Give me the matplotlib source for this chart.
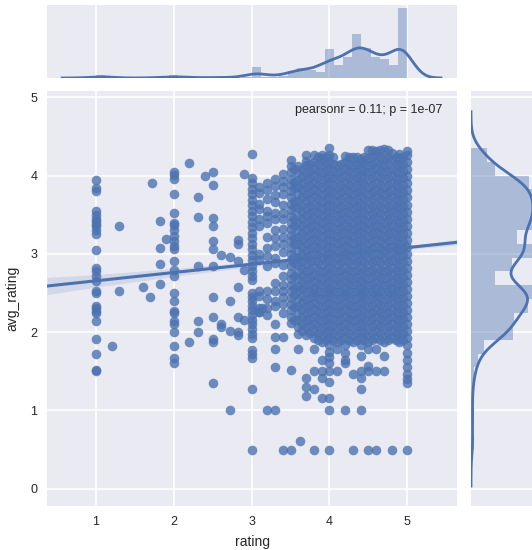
import matplotlib
matplotlib.use("Agg")
import matplotlib.pyplot as plt
import numpy as np

# --- scatter data (rating, avg_rating) ---
# lone points away from the dense columns
sparse_x = [1.2, 1.3, 1.3, 1.61, 1.7, 1.72, 1.82, 1.82, 1.82, 1.82, 1.9,
            2.2, 2.31, 2.31, 2.4, 2.51, 2.51, 2.51, 2.51, 2.51, 2.51, 2.61, 2.72,
            2.31, 2.51, 2.9, 2.82, 2.82, 2.82, 2.82, 2.72, 2.51, 2.2, 2.31, 2.31,
            2.51, 2.51, 2.51, 2.51, 2.61, 2.61, 2.72, 2.82, 2.82, 2.82, 2.9, 2.72,
            2.9, 3.1, 3.13, 3.62]
sparse_y = [1.82, 3.35, 2.53, 2.58, 2.45, 3.90, 3.42, 3.08, 2.87, 2.62, 3.19,
            4.16, 3.72, 3.47, 3.99, 4.04, 3.88, 3.46, 3.36, 3.17, 3.06, 2.98, 2.96,
            2.84, 2.85, 4.02, 3.18, 3.12, 2.91, 2.58, 2.40, 2.45, 1.87, 2.14, 2.00,
            2.20, 1.91, 1.87, 1.35, 2.10, 2.06, 2.01, 2.20, 2.00, 1.96, 2.15, 1.01,
            2.80, 2.26, 2.31, 0.61]

# columns of points sharing one rating value
col_1_0 = [3.94, 3.84, 3.80, 3.55, 3.50, 3.45, 3.42, 3.38, 3.35, 3.31, 3.26, 3.05, 2.82,
           2.78, 2.72, 2.65, 2.52, 2.50, 2.33, 2.31, 2.27, 2.24, 2.14, 1.91, 1.72, 1.52, 1.50]
col_2_0 = [4.05, 4.01, 3.95, 3.77, 3.52, 3.40, 3.37, 3.31, 3.23, 3.16, 3.10, 3.06, 2.91,
           2.80, 2.72, 2.50, 2.40, 2.27, 2.25, 2.14, 2.10, 2.00, 1.82, 1.67, 1.61]
col_3_0 = [4.28, 3.97, 3.90, 3.83, 3.76, 3.69, 3.62, 3.55, 3.48, 3.41, 3.34, 3.27, 3.20,
           3.13, 3.06, 2.99, 2.92, 2.85, 2.78, 2.72, 2.66, 2.50, 2.45, 2.40, 2.34, 2.28,
           2.22, 2.16, 2.10, 2.04, 1.98, 1.93, 1.77, 1.72, 1.67, 1.27, 0.50]
col_3_1 = [3.86, 3.78, 3.64, 3.57, 3.45, 3.36, 3.00, 2.92, 2.52, 2.46, 2.31, 2.26]
col_3_2 = [3.90, 3.82, 3.70, 3.55, 3.48, 3.40, 3.22, 3.07, 2.97, 2.84, 2.52, 2.42, 2.31,
           2.22, 1.01]
col_3_3 = [3.95, 3.87, 3.75, 3.66, 3.52, 3.44, 3.30, 3.20, 3.10, 2.95, 2.88, 2.63, 2.52,
           2.40, 2.33, 2.10, 1.94, 1.78, 1.55, 1.01]
col_3_4 = [4.02, 3.93, 3.85, 3.76, 3.62, 3.52, 3.45, 3.32, 3.22, 3.12, 3.02, 2.86, 2.72,
           2.60, 2.52, 2.45, 2.36, 2.25, 1.94, 0.50]
col_3_5 = [4.20, 4.12, 4.04, 3.96, 3.88, 3.80, 3.72, 3.64, 3.56, 3.48, 3.40, 3.32, 3.24,
           3.16, 3.08, 3.00, 2.92, 2.84, 2.76, 2.68, 2.60, 2.52, 2.44, 2.36, 2.28, 2.20,
           2.12, 1.52, 0.50]
col_3_55 = [4.08, 3.92, 3.84, 3.68, 3.60, 3.44, 3.36, 3.20, 3.12, 2.96, 2.88, 2.72, 2.56,
            2.48, 2.32, 2.16]
col_3_6 = [4.12, 4.03, 3.94, 3.85, 3.76, 3.67, 3.58, 3.49, 3.40, 3.31, 3.22, 3.13, 3.04,
           2.95, 2.86, 2.77, 2.68, 2.59, 2.52, 2.43, 2.34, 2.25, 2.16, 2.07, 1.98, 1.79]
col_3_65 = [4.08, 3.99, 3.90, 3.81, 3.72, 3.63, 3.54, 3.45, 3.36, 3.27, 3.18, 3.09, 3.00,
            2.91, 2.82, 2.73, 2.64, 2.55, 2.46, 2.37, 2.28, 2.19, 2.10, 2.01]
col_3_7 = [4.26, 4.18, 4.13, 4.04, 3.95, 3.86, 3.77, 3.68, 3.59, 3.50, 3.41, 3.32, 3.23,
           3.14, 3.05, 2.96, 2.87, 2.78, 2.69, 2.60, 2.51, 2.42, 2.33, 2.24, 2.15, 2.06,
           1.97, 1.42, 1.30, 1.19]
col_3_75 = [4.15, 4.06, 3.97, 3.88, 3.79, 3.70, 3.61, 3.52, 3.43, 3.34, 3.25, 3.16, 3.07,
            2.98, 2.89, 2.80, 2.71, 2.62, 2.53, 2.44, 2.35, 2.26, 2.17, 2.08, 1.99]
col_3_8 = [4.26, 4.17, 4.08, 3.99, 3.90, 3.81, 3.72, 3.63, 3.54, 3.45, 3.36, 3.27, 3.18,
           3.09, 3.00, 2.91, 2.82, 2.73, 2.64, 2.55, 2.50, 2.46, 2.37, 2.28, 2.19, 2.10,
           2.01, 1.92, 1.78, 1.51, 1.27, 0.50]
col_3_85 = [4.24, 4.15, 4.06, 3.97, 3.88, 3.79, 3.70, 3.61, 3.52, 3.43, 3.34, 3.25, 3.16,
            3.07, 2.98, 2.89, 2.80, 2.71, 2.62, 2.53, 2.44, 2.35, 2.26, 2.17, 2.08, 1.99,
            1.90]
col_3_9 = [4.26, 4.22, 4.13, 4.04, 3.95, 3.86, 3.77, 3.68, 3.59, 3.50, 3.41, 3.32, 3.23,
           3.14, 3.05, 2.96, 2.87, 2.78, 2.69, 2.60, 2.51, 2.42, 2.33, 2.24, 2.15, 2.06,
           1.97, 1.88, 1.65, 1.51, 1.42, 1.16]
col_3_95 = [4.24, 4.15, 4.06, 3.97, 3.88, 3.79, 3.70, 3.61, 3.52, 3.43, 3.34, 3.25, 3.16,
            3.07, 2.98, 2.89, 2.80, 2.71, 2.62, 2.53, 2.44, 2.35, 2.26, 2.17, 2.08, 1.99,
            1.90]
col_4_0 = [4.35, 4.26, 4.17, 4.08, 3.99, 3.90, 3.81, 3.72, 3.63, 3.54, 3.45, 3.36, 3.27,
           3.18, 3.09, 3.00, 2.91, 2.82, 2.73, 2.64, 2.55, 2.50, 2.46, 2.37, 2.28, 2.19,
           2.10, 2.01, 1.92, 1.83, 1.75, 1.68, 1.61, 1.51, 1.37, 1.16, 1.01, 0.50]
col_4_05 = [4.24, 4.15, 4.06, 3.97, 3.88, 3.79, 3.70, 3.61, 3.52, 3.43, 3.34, 3.25, 3.16,
            3.07, 2.98, 2.89, 2.80, 2.71, 2.62, 2.53, 2.44, 2.35, 2.26, 2.17, 2.08, 1.99,
            1.90]
col_4_1 = [4.14, 4.04, 3.95, 3.86, 3.77, 3.68, 3.59, 3.50, 3.41, 3.32, 3.23, 3.14, 3.05,
           2.96, 2.87, 2.78, 2.69, 2.60, 2.51, 2.42, 2.33, 2.24, 2.15, 2.06, 1.97, 1.88,
           1.78, 1.51]
col_4_15 = [4.15, 4.06, 3.97, 3.88, 3.79, 3.70, 3.61, 3.52, 3.43, 3.34, 3.25, 3.16, 3.07,
            2.98, 2.89, 2.80, 2.71, 2.62, 2.53, 2.44, 2.35, 2.26, 2.17, 2.08, 1.99, 1.90]
col_4_2 = [4.25, 4.17, 4.08, 3.99, 3.90, 3.81, 3.72, 3.63, 3.54, 3.45, 3.36, 3.27, 3.18,
           3.09, 3.00, 2.91, 2.82, 2.73, 2.64, 2.55, 2.50, 2.46, 2.37, 2.28, 2.19, 2.10,
           2.01, 1.92, 1.83, 1.74, 1.65, 1.60, 1.01]
col_4_25 = [4.24, 4.15, 4.06, 3.97, 3.88, 3.79, 3.70, 3.61, 3.52, 3.43, 3.34, 3.25, 3.16,
            3.07, 2.98, 2.89, 2.80, 2.71, 2.62, 2.53, 2.44, 2.35, 2.26, 2.17, 2.08, 1.99,
            1.90]
col_4_3 = [4.24, 4.13, 4.04, 3.95, 3.86, 3.77, 3.68, 3.59, 3.50, 3.41, 3.32, 3.23, 3.14,
           3.05, 2.96, 2.87, 2.78, 2.69, 2.60, 2.51, 2.42, 2.33, 2.24, 2.15, 2.06, 1.97,
           1.88, 1.47, 0.50]
col_4_35 = [4.24, 4.15, 4.06, 3.97, 3.88, 3.79, 3.70, 3.61, 3.52, 3.43, 3.34, 3.25, 3.16,
            3.07, 2.98, 2.89, 2.80, 2.71, 2.62, 2.53, 2.44, 2.35, 2.26, 2.17, 2.08, 1.99,
            1.90]
col_4_4 = [4.21, 4.17, 4.08, 3.99, 3.90, 3.81, 3.72, 3.63, 3.54, 3.45, 3.36, 3.27, 3.18,
           3.09, 3.00, 2.91, 2.82, 2.73, 2.64, 2.55, 2.50, 2.46, 2.37, 2.28, 2.19, 2.10,
           2.01, 1.92, 1.83, 1.70, 1.51, 1.42, 1.27, 1.01]
col_4_45 = [4.24, 4.15, 4.06, 3.97, 3.88, 3.79, 3.70, 3.61, 3.52, 3.43, 3.34, 3.25, 3.16,
            3.07, 2.98, 2.89, 2.80, 2.71, 2.62, 2.53, 2.44, 2.35, 2.26, 2.17, 2.08, 1.99,
            1.90]
col_4_5 = [4.33, 4.22, 4.13, 4.04, 3.95, 3.86, 3.77, 3.68, 3.59, 3.50, 3.41, 3.32, 3.23,
           3.14, 3.05, 2.96, 2.87, 2.78, 2.69, 2.60, 2.51, 2.42, 2.33, 2.24, 2.15, 2.06,
           1.97, 1.88, 1.78, 1.57, 1.51, 0.50]
col_4_55 = [4.33, 4.24, 4.15, 4.06, 3.97, 3.88, 3.79, 3.70, 3.61, 3.52, 3.43, 3.34, 3.25,
            3.16, 3.07, 2.98, 2.89, 2.80, 2.71, 2.62, 2.53, 2.44, 2.35, 2.26, 2.17, 2.08,
            1.99, 1.90]
col_4_6 = [4.31, 4.26, 4.17, 4.08, 3.99, 3.90, 3.81, 3.72, 3.63, 3.54, 3.45, 3.36, 3.27,
           3.18, 3.09, 3.00, 2.91, 2.82, 2.73, 2.64, 2.55, 2.50, 2.46, 2.37, 2.28, 2.19,
           2.10, 2.01, 1.92, 1.78, 1.51, 0.50]
col_4_65 = [4.33, 4.24, 4.15, 4.06, 3.97, 3.88, 3.79, 3.70, 3.61, 3.52, 3.43, 3.34, 3.25,
            3.16, 3.07, 2.98, 2.89, 2.80, 2.71, 2.62, 2.53, 2.44, 2.35, 2.26, 2.17, 2.08,
            1.99, 1.90]
col_4_7 = [4.34, 4.22, 4.13, 4.04, 3.95, 3.86, 3.77, 3.68, 3.59, 3.50, 3.41, 3.32, 3.23,
           3.14, 3.05, 2.96, 2.87, 2.78, 2.69, 2.60, 2.51, 2.42, 2.33, 2.24, 2.15, 2.06,
           1.97, 1.88, 1.70, 1.51]
col_4_75 = [4.33, 4.24, 4.15, 4.06, 3.97, 3.88, 3.79, 3.70, 3.61, 3.52, 3.43, 3.34, 3.25,
            3.16, 3.07, 2.98, 2.89, 2.80, 2.71, 2.62, 2.53, 2.44, 2.35, 2.26, 2.17, 2.08,
            1.99, 1.90]
col_4_8 = [4.29, 4.20, 4.08, 3.99, 3.90, 3.81, 3.72, 3.63, 3.54, 3.45, 3.36, 3.27, 3.18,
           3.09, 3.00, 2.91, 2.82, 2.73, 2.64, 2.55, 2.50, 2.46, 2.37, 2.28, 2.19, 2.10,
           2.01, 1.92, 0.50]
col_4_85 = [4.24, 4.15, 4.06, 3.97, 3.88, 3.79, 3.70, 3.61, 3.52, 3.43, 3.34, 3.25, 3.16,
            3.07, 2.98, 2.89, 2.80, 2.71, 2.62, 2.53, 2.44, 2.35, 2.26, 2.17, 2.08, 1.99,
            1.90]
col_4_9 = [4.27, 4.22, 4.13, 4.04, 3.95, 3.86, 3.77, 3.68, 3.59, 3.50, 3.41, 3.32, 3.23,
           3.14, 3.05, 2.96, 2.87, 2.78, 2.69, 2.60, 2.51, 2.42, 2.33, 2.24, 2.15, 2.06,
           1.97, 1.88]
col_4_95 = [4.24, 4.15, 4.06, 3.97, 3.88, 3.79, 3.70, 3.61, 3.52, 3.43, 3.34, 3.25, 3.16,
            3.07, 2.98, 2.89, 2.80, 2.71, 2.62, 2.53, 2.44, 2.35, 2.26, 2.17, 2.08, 1.99,
            1.90]
col_5_0 = [4.31, 4.26, 4.17, 4.08, 3.99, 3.90, 3.81, 3.72, 3.63, 3.54, 3.45, 3.36, 3.27,
           3.18, 3.09, 3.00, 2.91, 2.82, 2.73, 2.64, 2.55, 2.46, 2.37, 2.28, 2.19, 2.10,
           2.01, 1.92, 1.83, 1.74, 1.65, 1.56, 1.47, 1.40, 1.35, 0.50]

col_ratings = [1.0, 2.0, 3.0, 3.1, 3.2, 3.3, 3.4, 3.5, 3.55, 3.6, 3.65, 3.7, 3.75,
               3.8, 3.85, 3.9, 3.95, 4.0, 4.05, 4.1, 4.15, 4.2, 4.25, 4.3, 4.35,
               4.4, 4.45, 4.5, 4.55, 4.6, 4.65, 4.7, 4.75, 4.8, 4.85, 4.9, 4.95, 5.0]
col_values = [col_1_0, col_2_0, col_3_0, col_3_1, col_3_2, col_3_3, col_3_4, col_3_5,
              col_3_55, col_3_6, col_3_65, col_3_7, col_3_75, col_3_8, col_3_85,
              col_3_9, col_3_95, col_4_0, col_4_05, col_4_1, col_4_15, col_4_2,
              col_4_25, col_4_3, col_4_35, col_4_4, col_4_45, col_4_5, col_4_55,
              col_4_6, col_4_65, col_4_7, col_4_75, col_4_8, col_4_85, col_4_9,
              col_4_95, col_5_0]

# --- marginal histograms (counts per bin) and kde bandwidths ---
rating_range = (1.0, 5.0)
rating_counts = [25, 2, 1, 0, 0, 1, 2, 2, 22, 2, 3, 3, 2, 4, 4, 3, 4,
                 81, 5, 10, 18, 54, 74, 61, 44, 209, 94, 148, 316, 215, 153, 136, 94, 501]
rating_bw = 0.145
avg_range = (0.5, 4.35)
avg_counts = [10, 1, 8, 3, 6, 11, 22, 42, 134, 138, 182, 222, 77, 131, 202, 147,
              198, 202, 198, 186, 77, 51]
avg_bw = 0.155

# --- regression fit and its confidence band ---
reg_intercept = 2.55
reg_slope = 0.106
ci_x = [0.37, 1.0, 2.0, 3.0, 4.0, 4.5, 5.0, 5.64]
ci_half = [0.11, 0.08, 0.05, 0.03, 0.015, 0.014, 0.02, 0.035]

stat_label = "pearsonr = 0.11; p = 1e-07"

BLUE = "#4C72B0"
BG = "#EAEAF2"
TXT = "#262626"

plt.rcParams["font.family"] = ["Liberation Sans", "DejaVu Sans"]


def weighted_kde(edges, counts, bw, grid):
    centers = (edges[:-1] + edges[1:]) / 2
    w = counts / counts.sum()
    z = (grid[:, None] - centers[None, :]) / bw
    return np.sum(w * np.exp(-0.5 * z ** 2), axis=1) / (bw * np.sqrt(2 * np.pi))


def style_axes(ax):
    ax.set_facecolor(BG)
    for s in ax.spines.values():
        s.set_visible(False)
    ax.grid(True, color="white", linewidth=1.1)
    ax.set_axisbelow(True)
    ax.tick_params(length=0, colors=TXT, labelsize=9, pad=7)


fig = plt.figure(figsize=(5.32, 5.5), dpi=100)
ax = fig.add_axes([47 / 532, 44 / 550, 410 / 532, 415 / 550])
ax_top = fig.add_axes([47 / 532, 472 / 550, 410 / 532, 73 / 550], sharex=ax)
ax_right = fig.add_axes([471 / 532, 44 / 550, 73 / 532, 415 / 550], sharey=ax)
for a in (ax, ax_top, ax_right):
    style_axes(a)

# joint scatter
xs = list(sparse_x)
ys = list(sparse_y)
for r, vals in zip(col_ratings, col_values):
    xs += [r] * len(vals)
    ys += vals
ax.scatter(xs, ys, s=48, color=BLUE, alpha=0.8, linewidths=0, zorder=2)

line_x = np.array(ci_x)
line_y = reg_intercept + reg_slope * line_x
ax.fill_between(line_x, line_y - np.array(ci_half), line_y + np.array(ci_half),
                color=BLUE, alpha=0.15, linewidth=0, zorder=3)
ax.plot(line_x, line_y, color=BLUE, linewidth=2.2, zorder=4)

ax.set_xlim(0.37, 5.64)
ax.set_ylim(-0.22, 5.08)
ax.set_xticks([1, 2, 3, 4, 5])
ax.set_yticks([0, 1, 2, 3, 4, 5])
ax.set_xlabel("rating", fontsize=10, color=TXT, labelpad=5)
ax.set_ylabel("avg_rating", fontsize=10, color=TXT, labelpad=8)
ax.text(0.965, 0.955, stat_label, transform=ax.transAxes, ha="right", va="center",
        fontsize=9, color=TXT)

# top marginal: rating
r_edges = np.linspace(rating_range[0], rating_range[1], len(rating_counts) + 1)
r_counts = np.array(rating_counts, dtype=float)
r_dens = r_counts / (r_counts.sum() * np.diff(r_edges))
ax_top.bar(r_edges[:-1], r_dens, width=np.diff(r_edges), align="edge",
           color=BLUE, alpha=0.4, linewidth=0)
grid_r = np.linspace(rating_range[0] - 3 * rating_bw, rating_range[1] + 3 * rating_bw, 300)
kde_r = weighted_kde(r_edges, r_counts, rating_bw, grid_r)
ax_top.plot(grid_r, kde_r, color=BLUE, linewidth=2)
ax_top.set_ylim(0, 1.05 * max(r_dens.max(), kde_r.max()))
ax_top.yaxis.grid(False)
ax_top.set_yticks([])
ax_top.tick_params(labelbottom=False)

# right marginal: avg_rating
a_edges = np.linspace(avg_range[0], avg_range[1], len(avg_counts) + 1)
a_counts = np.array(avg_counts, dtype=float)
a_dens = a_counts / (a_counts.sum() * np.diff(a_edges))
ax_right.barh(a_edges[:-1], a_dens, height=np.diff(a_edges), align="edge",
              color=BLUE, alpha=0.4, linewidth=0)
grid_a = np.linspace(avg_range[0] - 3 * avg_bw, avg_range[1] + 3 * avg_bw, 300)
kde_a = weighted_kde(a_edges, a_counts, avg_bw, grid_a)
ax_right.plot(kde_a, grid_a, color=BLUE, linewidth=2)
ax_right.set_xlim(0, 1.05 * max(a_dens.max(), kde_a.max()))
ax_right.xaxis.grid(False)
ax_right.set_xticks([])
ax_right.tick_params(labelleft=False)

fig.savefig("out.png", dpi=100, facecolor="white")
